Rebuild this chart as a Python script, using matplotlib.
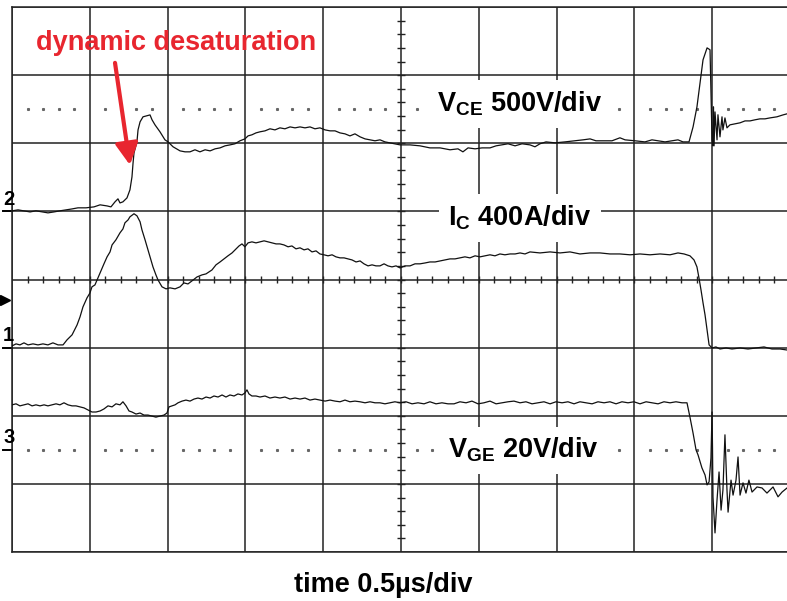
import numpy as np
import matplotlib
matplotlib.use("Agg")
from matplotlib import pyplot as plt

plt.rcParams['font.family'] = ['Liberation Sans', 'DejaVu Sans']
plt.rcParams['mathtext.fontset'] = 'custom'
plt.rcParams['mathtext.rm'] = 'Liberation Sans'
plt.rcParams['mathtext.bf'] = 'Liberation Sans:bold'

# scope settings: per-div scale and channel ground position (in divisions)
T_DIV = 0.5          # us/div
VCE_DIV, VCE_POS = 500, 5.0   # V/div, ch2
IC_DIV, IC_POS = 400, 3.0     # A/div, ch1
VGE_DIV, VGE_POS = 20, 1.5    # V/div, ch3

# ch2: collector-emitter voltage [V] vs time [us]
t_vce = [0.000, 0.039, 0.077, 0.116, 0.154, 0.193, 0.231, 0.270, 0.308, 0.347,
         0.386, 0.424, 0.476, 0.527, 0.566, 0.611, 0.636, 0.662, 0.681, 0.694,
         0.713, 0.739, 0.758, 0.771, 0.778, 0.784, 0.803, 0.810, 0.823, 0.842,
         0.887, 0.900, 0.919, 0.951, 0.983, 1.003, 1.035, 1.080, 1.112, 1.144,
         1.176, 1.208, 1.241, 1.273, 1.305, 1.337, 1.369, 1.401, 1.433, 1.465,
         1.497, 1.517, 1.542, 1.568, 1.594, 1.626, 1.658, 1.690, 1.722, 1.754,
         1.787, 1.819, 1.851, 1.883, 1.915, 1.947, 1.979, 2.012, 2.044, 2.076,
         2.108, 2.140, 2.172, 2.204, 2.237, 2.269, 2.301, 2.333, 2.365, 2.397,
         2.429, 2.494, 2.558, 2.622, 2.686, 2.751, 2.815, 2.866, 2.898, 2.931,
         2.976, 3.021, 3.072, 3.111, 3.149, 3.188, 3.233, 3.278, 3.329, 3.361,
         3.393, 3.432, 3.490, 3.554, 3.618, 3.670, 3.715, 3.753, 3.811, 3.856,
         3.907, 3.940, 4.004, 4.068, 4.113, 4.152, 4.197, 4.242, 4.280, 4.312,
         4.351, 4.377, 4.402, 4.422, 4.441, 4.467, 4.486, 4.492, 4.499, 4.505,
         4.508, 4.512, 4.518, 4.531, 4.537, 4.550, 4.563, 4.569, 4.582, 4.595,
         4.614, 4.646, 4.679, 4.711, 4.743, 4.775, 4.807, 4.839, 4.871, 4.916,
         4.955, 4.981]
vce = [4, 11, 4, -4, 4, -4, -11, -4, 4, 11,
       18, 26, 26, 33, 48, 40, 33, 70, 92, 62,
       70, 99, 158, 253, 356, 429, 510, 598, 657, 694,
       708, 672, 635, 584, 525, 510, 474, 444, 437, 437,
       452, 437, 452, 444, 459, 466, 481, 488, 496, 518,
       532, 554, 562, 576, 584, 591, 606, 598, 613, 606,
       620, 613, 620, 613, 620, 606, 613, 598, 591, 591,
       576, 569, 554, 569, 547, 532, 525, 518, 525, 510,
       503, 488, 488, 481, 466, 466, 452, 459, 437, 466,
       459, 466, 466, 481, 488, 496, 481, 496, 488, 474,
       496, 510, 503, 510, 518, 525, 532, 518, 518, 518,
       540, 525, 518, 510, 525, 518, 510, 518, 525, 510,
       510, 620, 767, 943, 1112, 1200, 1186, 892, 525, 481,
       767, 481, 730, 525, 709, 547, 694, 598, 686, 613,
       635, 642, 650, 664, 664, 672, 679, 679, 686, 694,
       708, 716]

# ch1: collector current [A]
t_ic = [0.000, 0.026, 0.051, 0.077, 0.103, 0.135, 0.167, 0.199, 0.231, 0.263,
        0.296, 0.328, 0.353, 0.386, 0.418, 0.437, 0.456, 0.482, 0.501, 0.514,
        0.533, 0.566, 0.591, 0.611, 0.630, 0.643, 0.668, 0.694, 0.713, 0.726,
        0.746, 0.758, 0.784, 0.803, 0.823, 0.835, 0.855, 0.868, 0.887, 0.906,
        0.925, 0.938, 0.964, 0.990, 1.015, 1.048, 1.080, 1.105, 1.131, 1.157,
        1.189, 1.221, 1.247, 1.285, 1.311, 1.337, 1.362, 1.388, 1.414, 1.440,
        1.459, 1.478, 1.497, 1.517, 1.542, 1.568, 1.594, 1.620, 1.645, 1.671,
        1.697, 1.722, 1.748, 1.774, 1.799, 1.825, 1.851, 1.877, 1.902, 1.928,
        1.954, 1.979, 2.005, 2.031, 2.057, 2.082, 2.108, 2.134, 2.159, 2.185,
        2.211, 2.237, 2.262, 2.288, 2.314, 2.339, 2.365, 2.391, 2.416, 2.442,
        2.468, 2.494, 2.526, 2.558, 2.590, 2.622, 2.654, 2.686, 2.719, 2.751,
        2.783, 2.815, 2.847, 2.879, 2.911, 2.943, 2.976, 3.008, 3.040, 3.072,
        3.104, 3.136, 3.168, 3.201, 3.233, 3.265, 3.297, 3.329, 3.393, 3.458,
        3.522, 3.586, 3.650, 3.715, 3.779, 3.843, 3.907, 3.972, 4.036, 4.100,
        4.165, 4.229, 4.280, 4.319, 4.357, 4.383, 4.402, 4.415, 4.428, 4.441,
        4.454, 4.467, 4.480, 4.499, 4.524, 4.550, 4.589, 4.627, 4.679, 4.730,
        4.781, 4.833, 4.884, 4.936, 4.981]
ic = [10, 22, 16, 28, 16, 22, 16, 22, 16, 28,
      16, 16, 45, 75, 133, 180, 239, 292, 321, 357,
      368, 439, 492, 533, 562, 603, 633, 674, 697, 733,
      750, 768, 786, 774, 739, 692, 633, 592, 533, 474,
      427, 398, 357, 345, 351, 345, 357, 380, 374, 392,
      415, 427, 433, 456, 486, 503, 521, 539, 556, 580,
      597, 609, 592, 615, 621, 615, 621, 627, 621, 615,
      609, 609, 603, 592, 597, 580, 586, 574, 580, 562,
      568, 550, 545, 539, 545, 533, 527, 527, 521, 515,
      503, 509, 492, 480, 486, 480, 480, 492, 480, 474,
      480, 468, 480, 480, 492, 492, 497, 503, 503, 509,
      515, 521, 521, 527, 533, 527, 539, 533, 539, 545,
      539, 550, 545, 550, 550, 556, 550, 562, 556, 562,
      556, 562, 550, 556, 556, 550, 550, 545, 550, 545,
      550, 545, 556, 550, 539, 515, 474, 409, 339, 263,
      192, 104, 16, -2, 4, -8, -2, -8, -2, -8,
      -2, 4, -8, -8, -14]

# ch3: gate-emitter voltage [V]
t_vge = [0.000, 0.026, 0.051, 0.077, 0.103, 0.129, 0.154, 0.180, 0.206, 0.231,
         0.257, 0.283, 0.308, 0.334, 0.360, 0.386, 0.411, 0.437, 0.463, 0.488,
         0.514, 0.540, 0.566, 0.591, 0.617, 0.643, 0.668, 0.694, 0.713, 0.733,
         0.752, 0.771, 0.797, 0.823, 0.848, 0.874, 0.900, 0.925, 0.951, 0.977,
         0.996, 1.009, 1.028, 1.048, 1.067, 1.093, 1.118, 1.144, 1.170, 1.195,
         1.221, 1.247, 1.273, 1.298, 1.324, 1.350, 1.375, 1.401, 1.427, 1.452,
         1.478, 1.497, 1.510, 1.523, 1.542, 1.568, 1.594, 1.626, 1.658, 1.690,
         1.722, 1.754, 1.787, 1.819, 1.851, 1.883, 1.915, 1.947, 1.979, 2.012,
         2.044, 2.076, 2.108, 2.140, 2.172, 2.204, 2.237, 2.269, 2.301, 2.333,
         2.365, 2.397, 2.429, 2.461, 2.494, 2.532, 2.571, 2.609, 2.648, 2.686,
         2.725, 2.763, 2.802, 2.841, 2.879, 2.918, 2.956, 2.995, 3.033, 3.072,
         3.111, 3.149, 3.188, 3.226, 3.265, 3.303, 3.342, 3.380, 3.419, 3.458,
         3.496, 3.535, 3.573, 3.612, 3.650, 3.689, 3.728, 3.766, 3.805, 3.843,
         3.882, 3.920, 3.959, 3.997, 4.036, 4.075, 4.113, 4.152, 4.190, 4.229,
         4.267, 4.306, 4.338, 4.357, 4.377, 4.396, 4.409, 4.434, 4.454, 4.467,
         4.480, 4.492, 4.499, 4.502, 4.505, 4.518, 4.531, 4.544, 4.557, 4.569,
         4.582, 4.595, 4.602, 4.621, 4.634, 4.653, 4.666, 4.679, 4.698, 4.717,
         4.736, 4.756, 4.788, 4.820, 4.852, 4.891, 4.923, 4.949, 4.981]
vge = [13.2, 13.5, 12.9, 13.2, 13.5, 12.9, 13.2, 12.9, 13.2, 12.9,
       13.2, 13.5, 13.2, 13.8, 13.2, 12.9, 12.9, 12.6, 12.3, 11.7,
       11.1, 11.1, 11.4, 12.0, 12.9, 12.6, 13.5, 13.2, 14.1, 12.9,
       11.4, 11.1, 10.5, 10.8, 10.2, 10.2, 9.9, 9.6, 9.9, 10.2,
       10.8, 12.6, 12.9, 13.2, 13.8, 14.3, 14.6, 14.3, 14.9, 15.2,
       14.9, 15.5, 15.2, 15.8, 15.5, 16.1, 15.5, 16.1, 15.8, 16.4,
       16.1, 16.7, 17.6, 16.4, 15.8, 15.8, 15.5, 15.8, 15.2, 15.5,
       15.2, 15.5, 14.9, 15.2, 14.9, 15.2, 14.6, 14.9, 14.6, 14.3,
       14.6, 14.3, 14.1, 14.6, 14.1, 14.3, 14.1, 13.8, 14.1, 13.8,
       13.8, 13.5, 13.8, 14.1, 13.8, 14.1, 13.5, 13.8, 13.5, 14.1,
       13.5, 13.8, 13.5, 13.5, 14.1, 13.8, 14.3, 13.5, 13.8, 14.3,
       13.5, 13.8, 14.1, 14.3, 13.8, 14.1, 13.5, 13.8, 14.1, 13.5,
       14.1, 13.8, 14.1, 13.5, 14.1, 13.8, 13.5, 14.1, 13.8, 14.1,
       13.5, 14.1, 13.8, 14.1, 13.5, 14.1, 13.8, 13.5, 14.1, 13.8,
       14.1, 13.8, 13.8, 9.6, 4.9, 0.0, -1.5, -5.3, -7.4, -10.3,
       -9.4, -2.4, 11.1, 0.5, -13.8, -24.4, -14.7, -6.5, -17.7, -11.8,
       4.4, -11.8, -18.3, -8.9, -13.3, -8.9, -2.1, -13.3, -9.7, -12.7,
       -8.9, -12.4, -10.9, -11.2, -12.7, -10.9, -13.8, -12.4, -11.2]

RED = '#e8262f'
GRID = '#222222'

fig = plt.figure(figsize=(7.87, 6.01), dpi=100)
ax = fig.add_axes([12 / 787, 49 / 601, 778 / 787, 545 / 601])
ax.set_xlim(0, 10 * T_DIV)
ax.set_ylim(0, 8)

# graticule
ax.set_xticks(np.arange(0, 10.5) * T_DIV)
ax.set_yticks(np.arange(0, 9))
ax.grid(True, color=GRID, lw=1.1)
ax.set_axisbelow(True)
ax.tick_params(length=0, labelbottom=False, labelleft=False)
for s in ax.spines.values():
    s.set_color(GRID)
    s.set_linewidth(1.1)

# minor ticks on the centre cross
ax.hlines(np.arange(0.2, 7.9, 0.2), 2.5 - 0.027, 2.5 + 0.027, color=GRID, lw=1.0, zorder=1)
ax.vlines(np.arange(0.1, 4.95, 0.1), 4 - 0.05, 4 + 0.05, color=GRID, lw=1.0, zorder=1)

# dotted marker lines
dot_t = [k * 0.1 for k in range(1, 50) if k % 5]
for lvl in (6.5, 1.5):
    ax.plot(dot_t, [lvl] * len(dot_t), ls='none', marker='s', ms=1.2,
            color='#666666', zorder=1)

# traces
ax.plot(t_vce, VCE_POS + np.array(vce) / VCE_DIV, color='#111111', lw=0.9, zorder=4)
ax.plot(t_ic, IC_POS + np.array(ic) / IC_DIV, color='#111111', lw=0.9, zorder=4)
ax.plot(t_vge, VGE_POS + np.array(vge) / VGE_DIV, color='#111111', lw=0.9, zorder=4)

# channel markers on the left edge
for lbl, lvl in (('2', VCE_POS), ('1', IC_POS), ('3', VGE_POS)):
    ax.text(-0.057, lvl + 0.04, lbl, fontsize=14.5, fontweight='bold',
            ha='left', va='bottom', clip_on=False)
    ax.plot([-0.058, 0], [lvl, lvl], color='k', lw=1.4, clip_on=False)
ax.plot([-0.045], [3.70], marker='>', ms=7, color='k', clip_on=False)

# channel labels
box = dict(boxstyle='square,pad=0.35', fc='white', ec='none')
ax.text(3.262, 6.46, r'$\mathbf{V_{CE}}$ 500V/div', fontsize=19.5, fontweight='bold',
        ha='center', va='baseline', bbox=box, zorder=3)
ax.text(3.265, 4.79, r'$\mathbf{I_{C}}$ 400A/div', fontsize=19.5, fontweight='bold',
        ha='center', va='baseline', bbox=box, zorder=3)
ax.text(3.284, 1.38, r'$\mathbf{V_{GE}}$ 20V/div', fontsize=19.5, fontweight='bold',
        ha='center', va='baseline', bbox=box, zorder=3)

# annotation
ax.text(1.057, 7.37, 'dynamic desaturation', color=RED, fontsize=19.5,
        fontweight='bold', ha='center', va='baseline', zorder=5)
ax.annotate('', xy=(0.758, 5.68), xytext=(0.662, 7.18),
            arrowprops=dict(arrowstyle='-|>,head_length=0.65,head_width=0.34',
                            color=RED, lw=3, shrinkA=0, shrinkB=0, mutation_scale=20),
            zorder=5)

fig.text(383 / 787, 1 - 592 / 601, 'time 0.5µs/div', ha='center', va='baseline',
         fontsize=19.5, fontweight='bold')

fig.savefig('out.png', dpi=100)
